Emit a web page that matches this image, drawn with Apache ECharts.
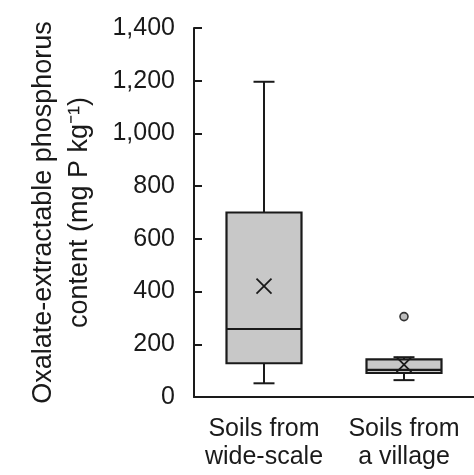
<!DOCTYPE html>
<html>
<head>
<meta charset="utf-8">
<style>html,body{margin:0;padding:0;background:#fff;}#c{width:474px;height:475px;}</style>
<script src="https://cdn.jsdelivr.net/npm/echarts@6/dist/echarts.min.js"></script>
</head>
<body>
<div id="c"></div>
<script>
const categories = ['Soils from\nwide-scale', 'Soils from\na village'];
const whiskerLow = [52, 64];
const q1 = [128, 91];
const median = [258, 103];
const q3 = [700, 143];
const whiskerHigh = [1196, 151];
const means = [421, 123];
const outlierCategory = [1];
const outlierValue = [305];
const yMin = 0, yMax = 1400, yStep = 200;

const FONT = '"Liberation Sans", Arial, sans-serif';
const INK = '#1a1a1a';

const boxData = categories.map((c, i) => [i, whiskerLow[i], q1[i], median[i], q3[i], whiskerHigh[i], means[i]]);
const outlierData = outlierCategory.map((c, i) => [c, outlierValue[i]]);

function renderBox(params, api) {
  const x = api.value(0);
  const pLow = api.coord([x, api.value(1)]);
  const pQ1 = api.coord([x, api.value(2)]);
  const pMed = api.coord([x, api.value(3)]);
  const pQ3 = api.coord([x, api.value(4)]);
  const pHigh = api.coord([x, api.value(5)]);
  const pMean = api.coord([x, api.value(6)]);
  const cx = pMed[0];
  const hw = 37.5, cap = 10.5, xs = 7.5;
  const ls = { stroke: INK, lineWidth: 2 };
  return {
    type: 'group',
    children: [
      { type: 'line', shape: { x1: cx, y1: pQ3[1], x2: cx, y2: pHigh[1] }, style: ls },
      { type: 'line', shape: { x1: cx - cap, y1: pHigh[1], x2: cx + cap, y2: pHigh[1] }, style: ls },
      { type: 'line', shape: { x1: cx, y1: pQ1[1], x2: cx, y2: pLow[1] }, style: ls },
      { type: 'line', shape: { x1: cx - cap, y1: pLow[1], x2: cx + cap, y2: pLow[1] }, style: ls },
      { type: 'rect', shape: { x: cx - hw, y: pQ3[1], width: hw * 2, height: pQ1[1] - pQ3[1] },
        style: { fill: '#c8c8c8', stroke: INK, lineWidth: 2.2 } },
      { type: 'line', shape: { x1: cx - hw, y1: pMed[1], x2: cx + hw, y2: pMed[1] }, style: { stroke: INK, lineWidth: 2.2 } },
      { type: 'line', shape: { x1: cx - xs, y1: pMean[1] - xs, x2: cx + xs, y2: pMean[1] + xs }, style: { stroke: INK, lineWidth: 1.8 } },
      { type: 'line', shape: { x1: cx - xs, y1: pMean[1] + xs, x2: cx + xs, y2: pMean[1] - xs }, style: { stroke: INK, lineWidth: 1.8 } }
    ]
  };
}

const chart = echarts.init(document.getElementById('c'), null, { renderer: 'canvas' });
chart.setOption({
  animation: false,
  backgroundColor: '#fff',
  grid: { left: 194, top: 28, width: 294, height: 369, containLabel: false },
  xAxis: {
    type: 'category',
    data: categories,
    axisLine: { lineStyle: { color: INK, width: 2 } },
    axisTick: { show: false },
    axisLabel: { color: INK, fontFamily: FONT, fontSize: 25, lineHeight: 28, margin: 18, interval: 0 },
    splitLine: { show: false }
  },
  yAxis: {
    type: 'value',
    min: yMin, max: yMax, interval: yStep,
    name: 'Oxalate-extractable phosphorus\ncontent (mg P kg\u207B\u00B9)',
    nameLocation: 'middle',
    nameRotate: 90,
    nameGap: 96,
    nameTextStyle: { color: INK, fontFamily: FONT, fontSize: 27, lineHeight: 36 },
    axisLine: { show: true, lineStyle: { color: INK, width: 2 } },
    axisTick: { show: true, inside: true, length: 8, lineStyle: { color: INK, width: 2 } },
    axisLabel: { color: INK, fontFamily: FONT, fontSize: 25, margin: 19,
      formatter: v => v.toLocaleString('en-US') },
    splitLine: { show: false }
  },
  series: [
    {
      type: 'custom',
      renderItem: renderBox,
      data: boxData,
      encode: { x: 0, y: [1, 2, 3, 4, 5, 6] },
      clip: false
    },
    {
      type: 'scatter',
      data: outlierData,
      symbol: 'circle',
      symbolSize: 8,
      itemStyle: { color: '#bdbdbd', borderColor: '#333', borderWidth: 1.6, opacity: 1 }
    }
  ]
});
</script>
</body>
</html>
